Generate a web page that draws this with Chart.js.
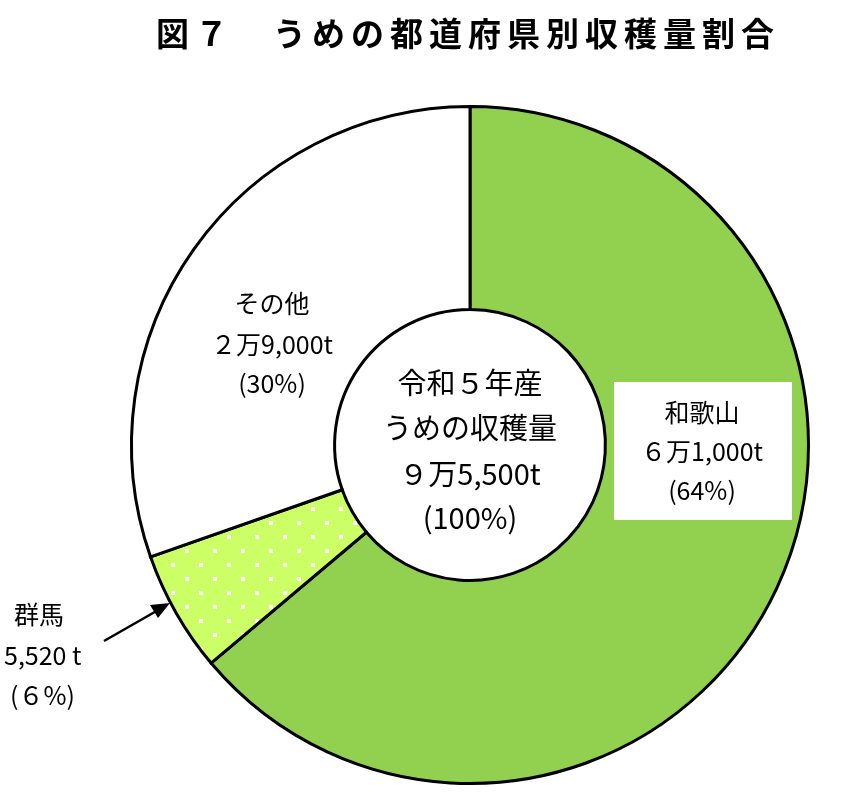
<!DOCTYPE html>
<html>
<head>
<meta charset="utf-8">
<script src="https://cdn.jsdelivr.net/npm/chart.js@4"></script>
<style>
  body { margin: 0; background: #fff; }
</style>
</head>
<body>
<canvas id="myChart" width="842" height="806"></canvas>
<script>
// データ（令和5年産 うめの収穫量）
const labels = ['和歌山', '群馬', 'その他'];
const values = [61000, 5520, 29000];
const fontJP = '"Noto Sans CJK JP", sans-serif';

// 群馬用のドット模様
function dotPattern() {
    let c = document.createElement('canvas');
    c.width = 28; c.height = 28;
    let g = c.getContext('2d');
    g.fillStyle = '#ccff66';
    g.fillRect(0, 0, 28, 28);
    g.fillStyle = '#ffffff';
    g.fillRect(3, 3, 4, 4);
    g.fillRect(17, 17, 4, 4);
    return g.createPattern(c, 'repeat');
}

const labelPlugin = {
    id: 'labels',
    afterDraw(chart) {
        const ctx = chart.ctx;
        ctx.save();
        ctx.fillStyle = '#000';
        ctx.textAlign = 'center';
        ctx.textBaseline = 'middle';

        ctx.font = 'bold 33px ' + fontJP;
        ctx.letterSpacing = '6px';
        ctx.fillText('図７　うめの都道府県別収穫量割合', 468, 33);
        ctx.letterSpacing = '0px';

        // 和歌山ラベルの白枠
        ctx.fillStyle = '#fff';
        ctx.fillRect(614, 382, 178, 138);
        ctx.fillStyle = '#000';

        ctx.font = '25px ' + fontJP;
        ctx.fillText('和歌山', 702, 412);
        ctx.fillText('６万1,000t', 702, 451);
        ctx.fillText('(64%)', 702, 490);

        ctx.fillText('その他', 272, 303);
        ctx.fillText('２万9,000t', 272, 344);
        ctx.fillText('(30%)', 272, 383);

        ctx.textAlign = 'left';
        ctx.fillText('群馬', 14, 614);
        ctx.fillText('5,520 t', 4, 655);
        ctx.fillText('(６%)', 10, 695);

        ctx.textAlign = 'center';
        ctx.font = '29px ' + fontJP;
        ctx.fillText('令和５年産', 470, 383);
        ctx.fillText('うめの収穫量', 470, 428);
        ctx.fillText('９万5,500t', 470, 474);
        ctx.fillText('(100%)', 470, 518);

        // 矢印
        ctx.strokeStyle = '#000';
        ctx.lineWidth = 2.5;
        ctx.beginPath();
        ctx.moveTo(104, 641);
        ctx.lineTo(160, 609);
        ctx.stroke();
        ctx.beginPath();
        ctx.moveTo(170, 603);
        ctx.lineTo(150, 605);
        ctx.lineTo(158, 618);
        ctx.closePath();
        ctx.fill();
        ctx.restore();
    }
};

new Chart(document.getElementById('myChart'), {
    type: 'doughnut',
    data: {
        labels: labels,
        datasets: [{
            data: values,
            backgroundColor: ['#92d050', dotPattern(), '#ffffff'],
            borderColor: '#000',
            borderWidth: 3,
            borderJoinStyle: 'miter'
        }]
    },
    options: {
        responsive: false,
        animation: false,
        cutout: '40%',
        layout: { padding: { left: 130, right: 32, top: 105, bottom: 21 } },
        plugins: { legend: { display: false }, tooltip: { enabled: false } }
    },
    plugins: [labelPlugin]
});
</script>
</body>
</html>
